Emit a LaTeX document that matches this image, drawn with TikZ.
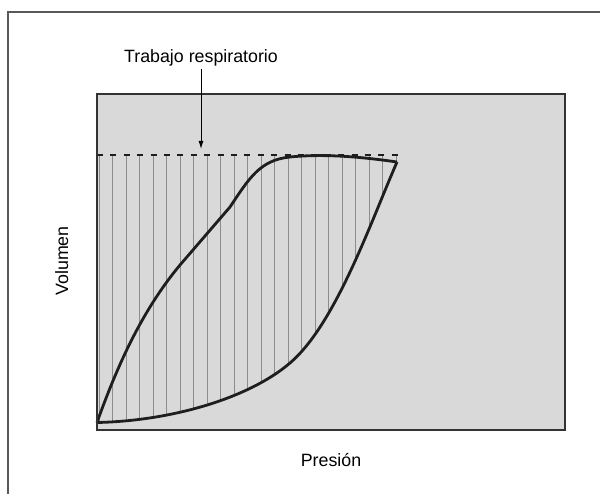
\documentclass[tikz,border=0pt]{standalone}
\usepackage{fontspec}
\setmainfont{Liberation Sans}
\usetikzlibrary{arrows.meta}

\definecolor{panelgray}{RGB}{217,217,217}
\definecolor{hatchgray}{RGB}{140,140,140}
\definecolor{loopblack}{RGB}{30,30,30}

\tikzset{
  label/.style={font=\fontsize{17.8}{21}\selectfont, inner sep=2pt},
  loop/.style={draw=loopblack, line width=2.8pt, line join=round},
  hatch/.style={draw=hatchgray, line width=1pt}
}

\begin{document}
\begin{tikzpicture}[x=1pt,y=-1pt]
%%%%%%%%%%%%%%%%%%%%%%%%%%%%%%%%%%%%%%%%%%% HELP LINES
%\draw[help lines] (0,0) grid +(600,494);
\useasboundingbox (0,0) rectangle (600,494);

%%%%%%%%%%%%%%%%%%%%%%%%%%%%%%%%%%%%%%%%%%% frame and panel
\draw[draw=black!65, line width=1.2pt] (8,494) -- (8,12) -- (600,12);
\fill[panelgray] (97,94) rectangle (565,430);

%%%%% hatching
\begin{scope}
\clip (97,422.5) .. controls (170,421) and (248.2,398.8) .. (290,363)
  .. controls (335.6,324) and (370.4,222.9) .. (397,162)
  -- (397,155) -- (96,155) -- (96,422.5) -- cycle;
\foreach \k in {0,...,22}
  \draw[hatch] (99+13.5*\k,150) -- (99+13.5*\k,430);
\end{scope}

%%%%% curves of the loop
\draw[loop] (97,422.5) .. controls (170,421) and (248.2,398.8) .. (290,363)
  .. controls (335.6,324) and (370.4,222.9) .. (397,162);
\draw[loop] (97,422.5) .. controls (117.2,366) and (141.6,311.2) .. (180,265)
  -- (230,207) .. controls (249.3,178) and (260,160) .. (290,157)
  .. controls (325,153.5) and (362,157) .. (397,162);

%%%%% dashed top line
\draw[draw=loopblack, line width=2.2pt, dash pattern=on 6pt off 7.4pt] (97,155) -- (398,155);

\draw[draw=black!80, line width=1.5pt] (97,94) rectangle (565,430);

%%%%% labels
\node[label, anchor=base](trabajo) at (201,62.7) {Trabajo respiratorio};
\coordinate (tip) at (201,149);
\draw[line width=1pt, -{Latex[length=8pt,width=5pt]}] (trabajo.south) -- (tip);

\node[label, anchor=base, rotate=90](volumen) at (68,261) {Volumen};
\node[label, anchor=base](presion) at (331,466.7) {Presión};
\end{tikzpicture}
\end{document}
